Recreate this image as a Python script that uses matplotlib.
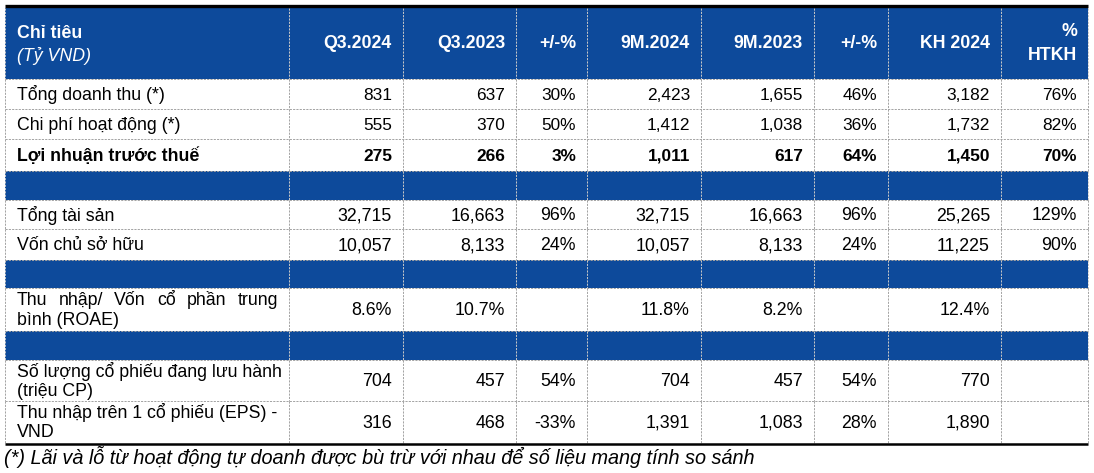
import matplotlib
matplotlib.use("Agg")
import matplotlib.pyplot as plt
from matplotlib import font_manager
from matplotlib.patches import Rectangle

# ---------------- data ----------------
columns = ["Q3.2024", "Q3.2023", "+/-%", "9M.2024", "9M.2023", "+/-%", "KH 2024", "%\nHTKH"]
header_title = "Chỉ tiêu"
header_unit = "(Tỷ VND)"

section1_labels = ["Tổng doanh thu (*)", "Chi phí hoạt động (*)", "Lợi nhuận trước thuế"]
section1_values = [
    ["831", "637", "30%", "2,423", "1,655", "46%", "3,182", "76%"],
    ["555", "370", "50%", "1,412", "1,038", "36%", "1,732", "82%"],
    ["275", "266", "3%", "1,011", "617", "64%", "1,450", "70%"],
]
section2_labels = ["Tổng tài sản", "Vốn chủ sở hữu"]
section2_values = [
    ["32,715", "16,663", "96%", "32,715", "16,663", "96%", "25,265", "129%"],
    ["10,057", "8,133", "24%", "10,057", "8,133", "24%", "11,225", "90%"],
]
section3_labels = [["Thu nhập/ Vốn cổ phần trung", "bình (ROAE)"]]
section3_values = [
    ["8.6%", "10.7%", "", "11.8%", "8.2%", "", "12.4%", ""],
]
section4_labels = [["Số lượng cổ phiếu đang lưu hành", "(triệu CP)"],
                   ["Thu nhập trên 1 cổ phiếu (EPS) -", "VND"]]
section4_values = [
    ["704", "457", "54%", "704", "457", "54%", "770", ""],
    ["316", "468", "-33%", "1,391", "1,083", "28%", "1,890", ""],
]
footnote = "(*) Lãi và lỗ từ hoạt động tự doanh được bù trừ với nhau để số liệu mang tính so sánh"

# ---------------- layout ----------------
W, H = 1094, 473
BLUE = "#0D4A9B"
GRID = "#A3A3A3"
GRID_ON_BLUE = "#C8C8C8"
col_x = [5, 289, 403, 516, 587, 701, 814, 888, 1001, 1088]

names = {f.name for f in font_manager.fontManager.ttflist}
BASE = "Liberation Sans" if "Liberation Sans" in names else "DejaVu Sans"
NARROW = "Liberation Sans Narrow" if "Liberation Sans Narrow" in names else BASE
plt.rcParams["font.family"] = [BASE, "DejaVu Sans"]

fig = plt.figure(figsize=(W / 100, H / 100), dpi=100)
ax = fig.add_axes([0, 0, 1, 1])
ax.set_xlim(0, W)
ax.set_ylim(H, 0)
ax.axis("off")

FS = 12.8      # labels & lower values
FS_TOP = 12.4  # values of first section
HFS = 12.8     # header
FFS = 14.3     # footnote

# rows: (kind, y0, y1, label, values, bold, narrow)
rows = []
rows.append(("header", 8, 79, None, None, True, True))
ys = [(79, 109), (109, 139), (139, 171)]
for i, (lab, vals) in enumerate(zip(section1_labels, section1_values)):
    rows.append(("data", ys[i][0], ys[i][1], [lab], vals, i == 2, True))
rows.append(("band", 171, 200, None, None, False, False))
ys = [(200, 229), (229, 260)]
for i, (lab, vals) in enumerate(zip(section2_labels, section2_values)):
    rows.append(("data", ys[i][0], ys[i][1], [lab], vals, False, False))
rows.append(("band", 260, 288, None, None, False, False))
for lab, vals in zip(section3_labels, section3_values):
    rows.append(("data", 288, 331, lab, vals, False, False))
rows.append(("band", 331, 360, None, None, False, False))
ys = [(360, 401), (401, 443)]
for i, (lab, vals) in enumerate(zip(section4_labels, section4_values)):
    rows.append(("data", ys[i][0], ys[i][1], lab, vals, False, False))

renderer = fig.canvas.get_renderer()
inv = ax.transData.inverted()


def justify_line(text, x0, x1, y, fs):
    words = text.split(" ")
    arts = [ax.text(0, y, w, fontsize=fs, va="center", ha="left", color="black", zorder=3)
            for w in words]
    widths = []
    for a in arts:
        bb = a.get_window_extent(renderer=renderer)
        p0 = inv.transform((bb.x0, bb.y0))
        p1 = inv.transform((bb.x1, bb.y0))
        widths.append(p1[0] - p0[0])
    gap = (x1 - x0 - sum(widths)) / max(len(words) - 1, 1)
    x = x0
    for a, w in zip(arts, widths):
        a.set_x(x)
        x += w + gap


dash = (0, (2.2, 1.2))
for kind, y0, y1, lab, vals, bold, narrow in rows:
    yc = (y0 + y1) / 2
    blue = kind in ("header", "band")
    if blue:
        ax.add_patch(Rectangle((col_x[0], y0), col_x[-1] - col_x[0], y1 - y0,
                               facecolor=BLUE, edgecolor="none", zorder=1))
    # vertical separators for this row
    for x in col_x:
        ax.plot([x, x], [y0, y1], color=GRID_ON_BLUE if blue else GRID, lw=0.7,
                ls=dash, zorder=2)
    if kind == "header":
        ax.text(17, 33, header_title, fontsize=HFS, fontweight="bold", color="white",
                va="center", ha="left", zorder=3)
        ax.text(17, 56, header_unit, fontsize=HFS, fontstyle="italic", color="white",
                va="center", ha="left", zorder=3)
        for j, c in enumerate(columns):
            xr = col_x[j + 2] - 11
            if "\n" in c:
                top, bot = c.split("\n")
                ax.text(xr, 32, top, fontsize=HFS, fontweight="bold", color="white",
                        va="center", ha="right", family=[NARROW, BASE], zorder=3)
                ax.text(xr, 56, bot, fontsize=HFS, fontweight="bold", color="white",
                        va="center", ha="right", family=[NARROW, BASE], zorder=3)
            else:
                ax.text(xr, 44, c, fontsize=HFS, fontweight="bold", color="white",
                        va="center", ha="right", family=[NARROW, BASE], zorder=3)
    elif kind == "data":
        fw = "bold" if bold else "normal"
        if len(lab) == 1:
            ax.text(17, yc + 1, lab[0], fontsize=FS, fontweight=fw, color="black",
                    va="center", ha="left", zorder=3)
        else:
            if lab[0].startswith("Thu nhập/"):
                justify_line(lab[0], 17, 278, yc - 9.5, FS)
            else:
                ax.text(17, yc - 9.5, lab[0], fontsize=FS, color="black",
                        va="center", ha="left", zorder=3)
            ax.text(17, yc + 10.5, lab[1], fontsize=FS, color="black",
                    va="center", ha="left", zorder=3)
        fam = [NARROW, BASE] if narrow else [BASE]
        fsv = FS_TOP if narrow else FS
        for j, v in enumerate(vals):
            if v:
                ax.text(col_x[j + 2] - 11, yc + 1, v, fontsize=fsv, fontweight=fw,
                        color="black", va="center", ha="right", family=fam, zorder=3)

# horizontal dashed lines
hlines = sorted({r[1] for r in rows[1:]} | {r[2] for r in rows[1:-1]})
for y in hlines:
    ax.plot([col_x[0], col_x[-1]], [y, y], color=GRID, lw=0.7, ls=dash, zorder=2)

# thick top/bottom rules
ax.plot([col_x[0], col_x[-1]], [6.5, 6.5], color="black", lw=2.4, zorder=4,
        solid_capstyle="butt")
ax.plot([col_x[0], col_x[-1]], [444, 444], color="black", lw=1.8, zorder=4,
        solid_capstyle="butt")

ax.text(4, 457, footnote, fontsize=FFS, fontstyle="italic", color="black",
        va="center", ha="left")

fig.savefig("out.png", dpi=100)
